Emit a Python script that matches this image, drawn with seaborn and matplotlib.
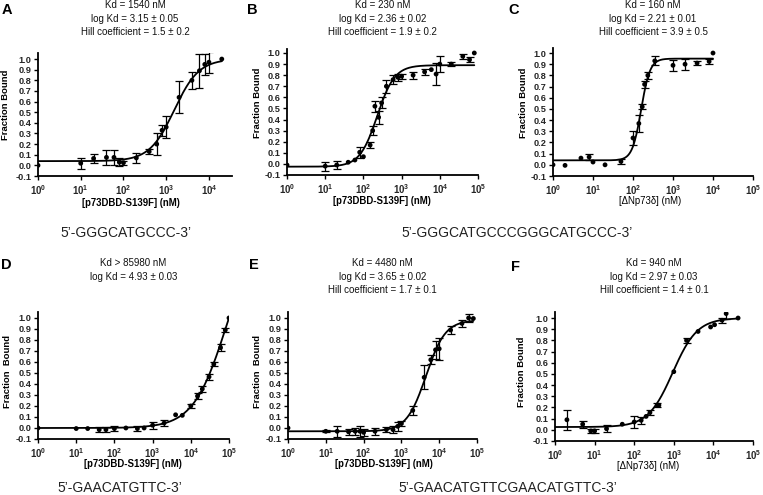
import numpy as np
import pandas as pd
import matplotlib
matplotlib.use('Agg')
import matplotlib.pyplot as plt
import seaborn as sns
from matplotlib.ticker import FixedLocator, FuncFormatter, NullLocator

W, H = 763, 495

# Panel A: p73DBD-S139F on GGGCATGCCC
conc_a = [1, 10, 20, 40, 60, 80, 100, 200, 400, 600, 800, 1000, 2000, 4000, 6000, 8000, 10000, 20000]
frac_a = [0.0, 0.02, 0.065, 0.075, 0.075, 0.03, 0.025, 0.07, 0.13, 0.2, 0.33, 0.36, 0.64, 0.80, 0.89, 0.95, 0.97, 1.0]
err_a = [0, 0.05, 0.045, 0.07, 0.07, 0.04, 0.02, 0.045, 0.025, 0.1, 0.05, 0.1, 0.15, 0.08, 0.16, 0.1, 0.1, 0]

# Panel B: p73DBD-S139F on GGGCATGCCCGGGCATGCCC
conc_b = [1, 10, 20, 40, 60, 80, 100, 150, 175, 200, 250, 300, 400, 600, 800, 1000, 2000, 4000,
          6000, 8000, 10000, 20000, 40000, 60000, 80000]
frac_b = [-0.01, -0.02, -0.01, 0.015, 0.035, 0.105, 0.065, 0.17, 0.30, 0.52, 0.42, 0.55, 0.70, 0.76,
          0.78, 0.79, 0.80, 0.83, 0.85, 0.81, 0.90, 0.90, 0.97, 0.94, 1.0]
err_b = [0, 0.04, 0.04, 0, 0, 0.05, 0, 0.03, 0.04, 0.05, 0.06, 0.05, 0.06, 0.04, 0.03, 0.02, 0.03,
         0.03, 0, 0.1, 0.07, 0.02, 0.02, 0.02, 0]

# Panel C: dNp73d on GGGCATGCCCGGGCATGCCC
conc_c = [1, 2, 5, 8, 10, 20, 50, 100, 140, 170, 195, 235, 350, 1000, 2000, 4000, 8000, 10000]
frac_c = [0.0, -0.005, 0.06, 0.07, 0.025, 0.0, 0.03, 0.24, 0.37, 0.52, 0.72, 0.80, 0.93, 0.89, 0.90,
          0.91, 0.925, 1.0]
err_c = [0, 0, 0, 0.03, 0, 0, 0.025, 0.06, 0.08, 0.02, 0.03, 0.03, 0.04, 0.05, 0.05, 0.02, 0.025, 0]

# Panel D: p73DBD-S139F on GAACATGTTC
conc_d = [1, 10, 20, 40, 60, 100, 200, 400, 600, 1000, 2000, 4000, 6000, 10000, 15000, 20000, 30000,
          40000, 60000, 80000, 100000]
frac_d = [0.0, -0.005, -0.005, -0.015, -0.015, -0.005, 0.0, -0.005, 0.0, 0.025, 0.045, 0.12, 0.115,
          0.2, 0.29, 0.355, 0.465, 0.58, 0.73, 0.89, 1.0]
err_d = [0, 0, 0, 0.02, 0.02, 0.02, 0, 0.02, 0, 0.03, 0.03, 0, 0, 0.02, 0.03, 0.03, 0.03, 0.02, 0.03,
         0.02, 0]

# Panel E: p73DBD-S139F on GAACATGTTCGAACATGTTC
conc_e = [1, 10, 20, 40, 60, 80, 100, 200, 400, 600, 800, 1000, 2000, 4000, 6000, 8000, 10000, 20000,
          40000, 60000, 80000]
frac_e = [0.0, -0.03, -0.03, -0.035, -0.03, -0.03, -0.04, -0.03, -0.015, -0.015, 0.015, 0.04, 0.16,
          0.46, 0.62, 0.71, 0.72, 0.89, 0.95, 1.0, 0.995]
err_e = [0, 0.01, 0.05, 0.03, 0.03, 0.05, 0.03, 0.03, 0.02, 0.03, 0.04, 0.02, 0.04, 0.11, 0.04, 0.08,
         0.1, 0.04, 0.03, 0.04, 0]

# Panel F: dNp73d on GAACATGTTCGAACATGTTC
conc_f = [2, 5, 8, 10, 20, 50, 100, 150, 200, 250, 380, 420, 1000, 2100, 4100, 8500, 10700, 16500,
          21000, 42000]
frac_f = [0.09, 0.05, -0.01, -0.01, 0.01, 0.05, 0.07, 0.085, 0.12, 0.155, 0.22, 0.22, 0.52, 0.80,
          0.88, 0.92, 0.94, 0.98, 1.04, 1.0]
err_f = [0.09, 0.03, 0.02, 0.02, 0.03, 0, 0.05, 0.03, 0, 0.02, 0.02, 0, 0, 0.02, 0, 0, 0, 0.02, 0.05, 0]

# Hill fits: Kd (nM), Hill coefficient, bottom, top, last concentration of the fitted line
fit_a = (1540, 1.5, 0.04, 1.0, 20000)
fit_b = (230, 1.9, -0.025, 0.89, 80000)
fit_c = (160, 3.9, 0.04, 0.95, 10000)
fit_d = (85980, 1.0, 0.0, 1.86, 100000)
fit_e = (4480, 1.7, -0.03, 0.98, 80000)
fit_f = (940, 1.4, 0.025, 1.0, 42000)

titles_a = ['Kd = 1540 nM', 'log Kd = 3.15 \u00b1 0.05', 'Hill coefficient = 1.5 \u00b1 0.2']
titles_b = ['Kd = 230 nM', 'log Kd = 2.36 \u00b1 0.02', 'Hill coefficient = 1.9 \u00b1 0.2']
titles_c = ['Kd = 160 nM', 'log Kd = 2.21 \u00b1 0.01', 'Hill coefficient = 3.9 \u00b1 0.5']
titles_d = ['Kd > 85980 nM', 'log Kd = 4.93 \u00b1 0.03']
titles_e = ['Kd = 4480 nM', 'log Kd = 3.65 \u00b1 0.02', 'Hill coefficient = 1.7 \u00b1 0.1']
titles_f = ['Kd = 940 nM', 'log Kd = 2.97 \u00b1 0.03', 'Hill coefficient = 1.4 \u00b1 0.1']

xlab_p73 = '[p73DBD-S139F] (nM)'
xlab_dnp = '[\u0394Np73\u03b4] (nM)'

sns.set_theme(style='ticks')
plt.rcParams['font.family'] = ['Liberation Sans', 'DejaVu Sans']
plt.rcParams['mathtext.fontset'] = 'custom'
plt.rcParams['mathtext.rm'] = 'Liberation Sans'
plt.rcParams['mathtext.bf'] = 'Liberation Sans:bold'


def hill(x, kd, n, bottom, top):
    return bottom + (top - bottom) * x ** n / (kd ** n + x ** n)


def px_box(l, t, r, b):
    return [l / W, 1 - b / H, (r - l) / W, (b - t) / H]


fig = plt.figure(figsize=(W / 100, H / 100), dpi=100)

# (data, fit, titles, xlabel, bold xlabel, ylabel, axes box px, x max log, y top,
#  letter, letter pos, title line y's, ylabel pos, xlabel pos)
panels = [
    (conc_a, frac_a, err_a, fit_a, titles_a, xlab_p73, True, 'Fraction Bound',
     (38, 53, 232, 176), 4.54, 1.057, 'A', (7, 10), [5.5, 18.8, 32], (5.5, 105), (131, 202.5)),
    (conc_b, frac_b, err_b, fit_b, titles_b, xlab_p73, True, 'Fraction Bound',
     (287, 49, 478, 175), 5.0, 1.036, 'B', (252, 10), [5.5, 18.8, 32], (258, 103), (382, 201)),
    (conc_c, frac_c, err_c, fit_c, titles_c, xlab_dnp, False, 'Fraction Bound',
     (553, 48, 753, 176), 5.0, 1.045, 'C', (514, 10), [5.5, 18.8, 32], (523, 103), (650, 201)),
    (conc_d, frac_d, err_d, fit_d, titles_d, xlab_p73, True, 'Fraction  Bound',
     (38, 312, 229, 439), 5.0, 1.054, 'D', (6, 265), [263, 276.5], (8, 372), (133, 464)),
    (conc_e, frac_e, err_e, fit_e, titles_e, xlab_p73, True, 'Fraction  Bound',
     (288, 312, 477, 439), 5.0, 1.054, 'E', (254, 265), [263, 276.5, 290], (258, 372), (384, 464)),
    (conc_f, frac_f, err_f, fit_f, titles_f, xlab_dnp, False, 'Fraction Bound',
     (555, 312, 753, 441), 5.0, 1.054, 'F', (515, 267), [263, 276.5, 290], (522, 372), (648, 466)),
]

yticks = [round(-0.1 + 0.1 * i, 1) for i in range(12)]

for (conc, frac, err, fit, titles, xlab, xbold, ylab, bx, xmax_log, ytop,
     letter, lpos, title_ys, ylpos, xlpos) in panels:
    ax = fig.add_axes(px_box(*bx))
    kd, n, bottom, top, xend = fit
    x_fit = np.logspace(0, np.log10(xend), 300)
    curve = pd.DataFrame({'conc': x_fit, 'frac': hill(x_fit, kd, n, bottom, top)})
    pts = pd.DataFrame({'conc': conc, 'frac': frac, 'err': err})

    sns.lineplot(data=curve, x='conc', y='frac', color='black', linewidth=1.3, ax=ax)
    e = pts[pts['err'] > 0]
    ax.errorbar(e['conc'], e['frac'], yerr=e['err'], fmt='none', ecolor='black',
                elinewidth=0.9, capsize=2.6, capthick=0.9, zorder=3)
    sns.scatterplot(data=pts, x='conc', y='frac', color='black', s=12, edgecolor='none',
                    ax=ax, zorder=4)

    ax.set_xscale('log')
    ax.set_xlim(1, 10 ** xmax_log)
    ax.set_ylim(-0.1, ytop)
    ax.xaxis.set_major_locator(FixedLocator([10.0 ** k for k in range(6) if k <= xmax_log]))
    ax.xaxis.set_minor_locator(NullLocator())
    ax.xaxis.set_major_formatter(FuncFormatter(
        lambda v, p: r'$\mathbf{10^{%d}}$' % round(np.log10(v))))
    ax.set_yticks(yticks)
    ax.set_yticklabels(['%.1f' % t for t in yticks])
    for lab in ax.get_yticklabels():
        lab.set_fontweight('bold')
    ax.tick_params(axis='y', labelsize=6.6, length=3, width=1, pad=1.5, color='black')
    ax.tick_params(axis='x', labelsize=6.9, length=3, width=1, pad=2.0, color='black')
    for side in ['top', 'right']:
        ax.spines[side].set_visible(False)
    for side in ['left', 'bottom']:
        ax.spines[side].set_linewidth(1.3)
        ax.spines[side].set_color('black')

    ax.set_xlabel(xlab, fontsize=6.9, fontweight='bold' if xbold else 'normal', color='black')
    ax.set_ylabel(ylab, fontsize=6.8, fontweight='bold', color='black')
    l, t, r, b = bx
    ax.xaxis.set_label_coords((xlpos[0] - l) / (r - l), (b - xlpos[1]) / (b - t))
    ax.xaxis.label.set_va('center')
    ax.yaxis.set_label_coords((ylpos[0] - l) / (r - l), (b - ylpos[1]) / (b - t))
    ax.yaxis.label.set_va('center')

    cx = (l + r) / 2
    for line, ty in zip(titles, title_ys):
        fig.text(cx / W, 1 - ty / H, line, ha='center', va='center', fontsize=7.0, color='#111111')
    fig.text(lpos[0] / W, 1 - lpos[1] / H, letter, ha='center', va='center',
             fontsize=10.5, fontweight='bold', color='black')

seqs = ['5\u2019-GGGCATGCCC-3\u2019', '5\u2019-GGGCATGCCCGGGCATGCCC-3\u2019',
        '5\u2019-GAACATGTTC-3\u2019', '5\u2019-GAACATGTTCGAACATGTTC-3\u2019']
seq_pos = [(126, 233), (517, 233), (120, 488), (508, 488)]
for s, (sx, sy) in zip(seqs, seq_pos):
    fig.text(sx / W, 1 - sy / H, s, ha='center', va='center', fontsize=10, color='#222222')

fig.savefig('out.png', dpi=100)
